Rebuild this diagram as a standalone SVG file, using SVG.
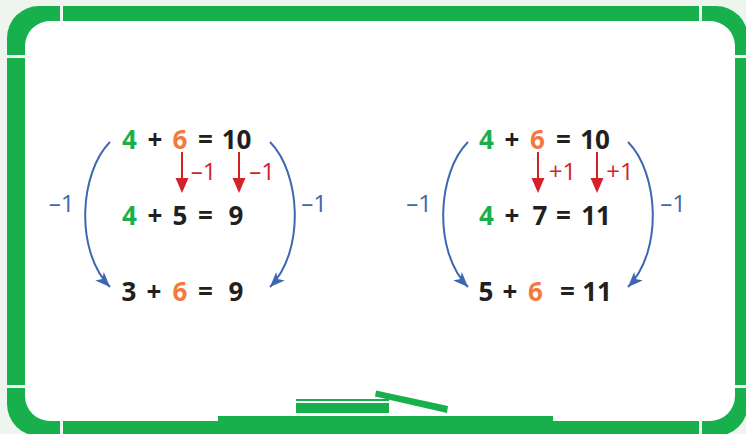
<svg xmlns="http://www.w3.org/2000/svg" width="746" height="434" viewBox="0 0 746 434">
<defs>
<style>
.n{font-family:"Open Sans","Liberation Sans",sans-serif;font-weight:700;font-size:26px;text-anchor:middle;fill:#231f20}
.g{fill:#1aaf4b}
.o{fill:#f37a3c}
.lr{font-family:"Open Sans","Liberation Sans",sans-serif;font-size:24px;text-anchor:middle;fill:#d2232a}
.lb{font-family:"Open Sans","Liberation Sans",sans-serif;font-size:24px;text-anchor:middle;fill:#3d67b1}
.arc{fill:none;stroke:#3d67b1;stroke-width:2}
.ra{fill:none;stroke:#d2232a;stroke-width:2}
.gap{fill:#f4f8f4}
</style>
<marker id="bh" markerUnits="userSpaceOnUse" markerWidth="18" markerHeight="14" refX="15" refY="6" orient="auto">
<path d="M0,0 L15,6 L0,12 L4,6 z" fill="#3d67b1"/>
</marker>
</defs>
<rect width="746" height="434" fill="#eef5ee"/>
<g id="board">
<rect x="20" y="16" width="720" height="410" rx="28" fill="#ffffff"/>
<path fill="#17b04c" fill-rule="evenodd" d="M39,6 H716 A32,32 0 0 1 748,38 V404 A32,32 0 0 1 716,436 H39 A32,32 0 0 1 7,404 V38 A32,32 0 0 1 39,6 Z M50,21 H710 A25,25 0 0 1 735,46 V396 A25,25 0 0 1 710,421 H50 A25,25 0 0 1 25,396 V46 A25,25 0 0 1 50,21 Z"/>
<rect class="gap" x="60" y="5" width="3" height="17"/>
<rect class="gap" x="699" y="5" width="3" height="17"/>
<rect class="gap" x="60" y="420" width="3" height="15"/>
<rect class="gap" x="699" y="420" width="3" height="15"/>
<rect class="gap" x="6" y="55" width="20" height="3"/>
<rect class="gap" x="734" y="55" width="13" height="3"/>
<rect class="gap" x="6" y="385" width="20" height="3"/>
<rect class="gap" x="734" y="385" width="13" height="3"/>
<rect x="218" y="416" width="335" height="6" fill="#17b04c"/>
<rect x="296" y="399" width="93" height="2" fill="#17b04c"/>
<rect x="296" y="403" width="93" height="10" fill="#17b04c"/>
<polygon points="376,390.5 448,406 447,413 375,396.5" fill="#17b04c"/>
</g>
<g id="left-eq1"><text class="n" y="149"><tspan class="g" x="129.5">4</tspan><tspan x="155">+</tspan><tspan class="o" x="180">6</tspan><tspan x="205.5">=</tspan><tspan x="236.5">10</tspan></text></g>
<g id="left-eq2"><text class="n" y="225"><tspan class="g" x="129.5">4</tspan><tspan x="155">+</tspan><tspan x="180">5</tspan><tspan x="205.5">=</tspan><tspan x="236">9</tspan></text></g>
<g id="left-eq3"><text class="n" y="301"><tspan x="129">3</tspan><tspan x="154">+</tspan><tspan class="o" x="180">6</tspan><tspan x="205.5">=</tspan><tspan x="236">9</tspan></text></g>
<g id="right-eq1"><text class="n" y="149"><tspan class="g" x="486.5">4</tspan><tspan x="512">+</tspan><tspan class="o" x="537.5">6</tspan><tspan x="563.5">=</tspan><tspan x="595">10</tspan></text></g>
<g id="right-eq2"><text class="n" y="225"><tspan class="g" x="486.5">4</tspan><tspan x="512">+</tspan><tspan x="540">7</tspan><tspan x="563.5">=</tspan><tspan x="596">11</tspan></text></g>
<g id="right-eq3"><text class="n" y="301"><tspan x="486">5</tspan><tspan x="510">+</tspan><tspan class="o" x="535.5">6</tspan><tspan x="567.5">=</tspan><tspan x="597">11</tspan></text></g>
<g id="labels">
<text class="lr" x="203.5" y="180">–1</text>
<text class="lr" x="262" y="180">–1</text>
<text class="lr" x="562.5" y="180">+1</text>
<text class="lr" x="620" y="180">+1</text>
<text class="lb" x="61.5" y="212">–1</text>
<text class="lb" x="314" y="212">–1</text>
<text class="lb" x="419" y="212">–1</text>
<text class="lb" x="673" y="212">–1</text>
</g>
<g id="connectors">
<path class="ra" d="M182,152 V180"/><path d="M175.5,178 H188.5 L182,193 Z" fill="#d2232a"/>
<path class="ra" d="M239,152 V180"/><path d="M232.5,178 H245.5 L239,193 Z" fill="#d2232a"/>
<path class="ra" d="M538,152 V180"/><path d="M531.5,178 H544.5 L538,193 Z" fill="#d2232a"/>
<path class="ra" d="M597,152 V180"/><path d="M590.5,178 H603.5 L597,193 Z" fill="#d2232a"/>
<path class="arc" d="M110,142 C80,172 74,250 110,287" marker-end="url(#bh)"/>
<path class="arc" d="M270,142 C300,172 306,250 270,287" marker-end="url(#bh)"/>
<path class="arc" d="M468,142 C438,172 432,250 468,287" marker-end="url(#bh)"/>
<path class="arc" d="M628,142 C658,172 664,250 628,287" marker-end="url(#bh)"/>
</g>
</svg>
